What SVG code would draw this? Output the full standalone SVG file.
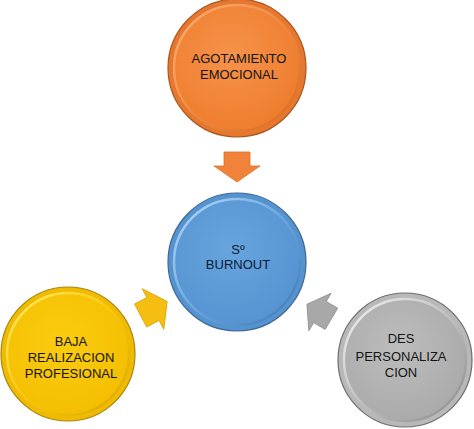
<svg xmlns="http://www.w3.org/2000/svg" width="474" height="429" viewBox="0 0 474 429">
<style>
.lbl{font-family:"Liberation Sans",Arial,sans-serif;font-size:13px;text-anchor:middle;fill:#141414}
.lblb{font-family:"Liberation Sans",Arial,sans-serif;font-size:13px;text-anchor:middle;fill:#0c1a33}
</style>
<defs>
<radialGradient id="gO" cx="0.45" cy="0.4" r="0.65"><stop offset="0" stop-color="#F6924A"/><stop offset="1" stop-color="#EE7C2C"/></radialGradient>
<radialGradient id="gB" cx="0.45" cy="0.4" r="0.65"><stop offset="0" stop-color="#66A5DE"/><stop offset="1" stop-color="#5592D0"/></radialGradient>
<radialGradient id="gY" cx="0.45" cy="0.4" r="0.65"><stop offset="0" stop-color="#FBCC10"/><stop offset="1" stop-color="#F4BE00"/></radialGradient>
<radialGradient id="gG" cx="0.45" cy="0.4" r="0.65"><stop offset="0" stop-color="#BDBDBD"/><stop offset="1" stop-color="#A9A9A9"/></radialGradient>
<linearGradient id="hO" x1="0" y1="0" x2="1" y2="1"><stop offset="0" stop-color="#FBB27A"/><stop offset="0.5" stop-color="#F08A40"/><stop offset="1" stop-color="#D86A22"/></linearGradient>
<linearGradient id="hB" x1="0" y1="0" x2="1" y2="1"><stop offset="0" stop-color="#B6DAF6"/><stop offset="0.5" stop-color="#6CA8DE"/><stop offset="1" stop-color="#3F78B4"/></linearGradient>
<linearGradient id="hY" x1="0" y1="0" x2="1" y2="1"><stop offset="0" stop-color="#FFEC70"/><stop offset="0.5" stop-color="#F8C80A"/><stop offset="1" stop-color="#D9A600"/></linearGradient>
<linearGradient id="hG" x1="0" y1="0" x2="1" y2="1"><stop offset="0" stop-color="#F2F2F2"/><stop offset="0.5" stop-color="#C0C0C0"/><stop offset="1" stop-color="#8A8A8A"/></linearGradient>
<path id="arr" d="M-14,-13 L0,-13 L0,-23 L16,0 L0,23 L0,13 L-14,13 Z"/>
</defs>

<g id="connectors">
<use href="#arr" transform="translate(237,166) rotate(90)" fill="#F0823A" stroke="#E07028" stroke-width="0.8"/>
<use href="#arr" transform="translate(153,309) rotate(-28)" fill="#F5BE10" stroke="#D9A200" stroke-width="0.8"/>
<use href="#arr" transform="translate(320,312) rotate(210.7) scale(0.95)" fill="#A8A8A8" stroke="#8E8E8E" stroke-width="0.8"/>
</g>

<g id="node-agotamiento">
<circle cx="237" cy="68" r="69" fill="#E5772E" stroke="#A9561E" stroke-width="1.2"/>
<circle cx="237" cy="68" r="63" fill="url(#gO)" stroke="url(#hO)" stroke-width="2.5"/>
<text class="lbl" x="239" y="63">AGOTAMIENTO</text>
<text class="lbl" x="239" y="79">EMOCIONAL</text>
</g>

<g id="node-burnout">
<circle cx="237" cy="262" r="69" fill="#5592D0" stroke="#3E6892" stroke-width="1.2"/>
<circle cx="237" cy="262" r="63" fill="url(#gB)" stroke="url(#hB)" stroke-width="2.5"/>
<text class="lblb" x="238" y="254">Sº</text>
<text class="lblb" x="238" y="269">BURNOUT</text>
</g>

<g id="node-baja">
<circle cx="68" cy="354" r="67" fill="#F0BA00" stroke="#A88710" stroke-width="1.2"/>
<circle cx="68" cy="354" r="61" fill="url(#gY)" stroke="url(#hY)" stroke-width="2.5"/>
<text class="lbl" x="71" y="346">BAJA</text>
<text class="lbl" x="71" y="362">REALIZACION</text>
<text class="lbl" x="71" y="378">PROFESIONAL</text>
</g>

<g id="node-despersonalizacion">
<circle cx="405" cy="360" r="67" fill="#B8B8B8" stroke="#6E6E6E" stroke-width="1.2"/>
<circle cx="405" cy="360" r="61" fill="url(#gG)" stroke="url(#hG)" stroke-width="2.5"/>
<text class="lbl" x="401" y="343">DES</text>
<text class="lbl" x="401" y="361">PERSONALIZA</text>
<text class="lbl" x="401" y="377">CION</text>
</g>
</svg>
